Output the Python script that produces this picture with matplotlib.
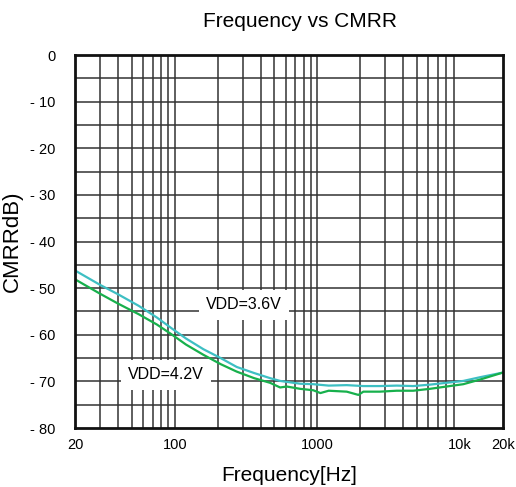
import matplotlib
matplotlib.use("Agg")
import matplotlib.pyplot as plt
from matplotlib.ticker import FixedLocator, NullFormatter

plt.rcParams['font.family'] = ['Liberation Sans', 'DejaVu Sans']

# frequency (Hz) and CMRR (dB)
freq_36 = [20, 30, 40, 56, 75, 95, 120, 159, 210, 272, 360, 466, 548, 610,
           760, 936, 1200, 1606, 2100, 2740, 3600, 4700, 6130, 8040, 10540, 13820, 20000]
cmrr_36 = [-46.2, -49.3, -51.3, -53.8, -56.3, -58.6, -60.8, -63.1, -65.0, -66.9, -68.2,
           -69.3, -69.9, -70.1, -70.5, -70.6, -70.9, -70.8, -71.0, -71.0, -70.9, -71.0, -70.7,
           -70.3, -69.9, -69.1, -68.1]

freq_42 = [20, 30, 40, 56, 75, 95, 120, 159, 210, 272, 360, 466, 548, 610,
           760, 936, 1050, 1200, 1606, 1940, 2100, 2740, 3600, 4700, 6130, 8040, 10540, 13820, 20000]
cmrr_42 = [-48.1, -51.2, -53.3, -55.6, -57.8, -59.9, -62.1, -64.3, -66.3, -67.9, -69.3,
           -70.3, -71.3, -71.1, -71.6, -71.9, -72.5, -72.0, -72.2, -72.9, -72.2, -72.2, -72.0,
           -72.0, -71.6, -71.1, -70.6, -69.6, -68.1]

y_ticks = [0, -10, -20, -30, -40, -50, -60, -70, -80]
y_labels = ['0', '- 10', '- 20', '- 30', '- 40', '- 50', '- 60', '- 70', '- 80']
x_ticks = [20, 100, 1000, 10000, 20000]
x_labels = ['20', '100', '1000', '10k', '20k']

fig = plt.figure(figsize=(5.16, 4.87), dpi=100)
ax = fig.add_axes([0.1453, 0.1211, 0.8295, 0.7659])

ax.set_xscale('log')
ax.set_xlim(20, 20000)
ax.set_ylim(-80, 0)

# grid
vlines = [m * 10 ** e for e in (1, 2, 3) for m in range(1, 10)]
vlines = [v for v in vlines if 20 < v < 20000]
for v in vlines:
    ax.axvline(v, color='#333333', lw=1.1, zorder=1)
for h in range(-75, 0, 5):
    ax.axhline(h, color='#333333', lw=1.1, zorder=1)

ax.plot(freq_36, cmrr_36, color='#3dbfc3', lw=1.6, zorder=3)
ax.plot(freq_42, cmrr_42, color='#17b04c', lw=1.6, zorder=3)

ax.text(306, -53.6, 'VDD=3.6V', fontsize=11.5, ha='center', va='center',
        zorder=4, bbox=dict(boxstyle='square,pad=0.45', facecolor='white', edgecolor='none'))
ax.text(87, -68.6, 'VDD=4.2V', fontsize=11.5, ha='center', va='center',
        zorder=4, bbox=dict(boxstyle='square,pad=0.45', facecolor='white', edgecolor='none'))

ax.xaxis.set_major_locator(FixedLocator(x_ticks))
ax.xaxis.set_minor_formatter(NullFormatter())
ax.xaxis.set_minor_locator(FixedLocator([]))
ax.set_xticklabels(x_labels)
ax.set_yticks(y_ticks)
ax.set_yticklabels(y_labels)
ax.tick_params(length=0, labelsize=10.5, pad=7)
ax.tick_params(axis='y', pad=14)

for s in ax.spines.values():
    s.set_linewidth(2.0)
    s.set_color('#111111')
    s.set_zorder(5)

ax.set_title('Frequency vs CMRR', fontsize=15, pad=20, x=0.525)
ax.set_xlabel('Frequency[Hz]', fontsize=15, labelpad=10)
ax.set_ylabel('CMRRdB)', fontsize=16, labelpad=5)

fig.savefig('out.png', dpi=100)
